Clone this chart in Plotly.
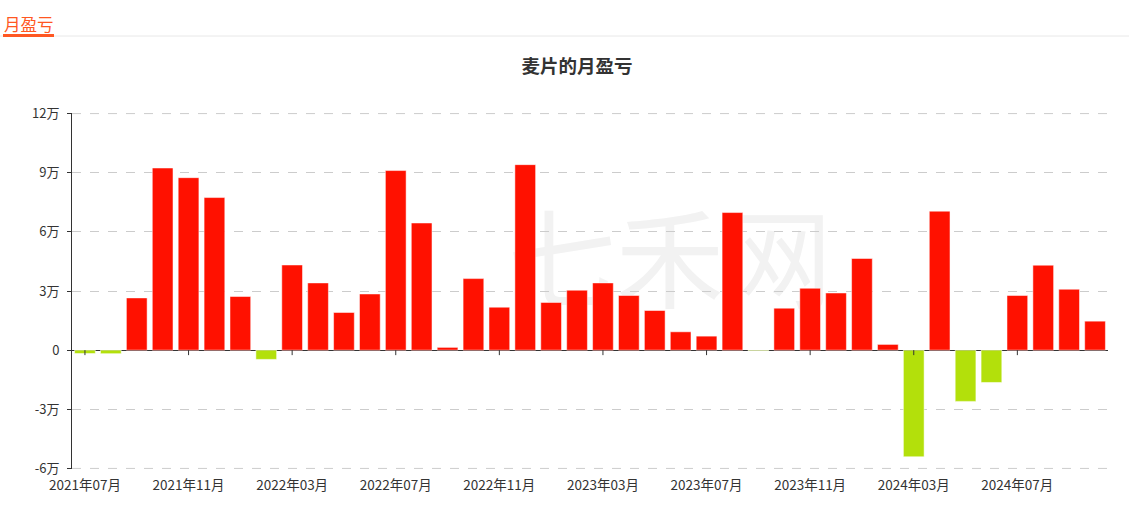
import plotly.graph_objects as go

months = [
    "2021年07月", "2021年08月", "2021年09月", "2021年10月", "2021年11月", "2021年12月",
    "2022年01月", "2022年02月", "2022年03月", "2022年04月", "2022年05月", "2022年06月",
    "2022年07月", "2022年08月", "2022年09月", "2022年10月", "2022年11月", "2022年12月",
    "2023年01月", "2023年02月", "2023年03月", "2023年04月", "2023年05月", "2023年06月",
    "2023年07月", "2023年08月", "2023年09月", "2023年10月", "2023年11月", "2023年12月",
    "2024年01月", "2024年02月", "2024年03月", "2024年04月", "2024年05月", "2024年06月",
    "2024年07月", "2024年08月", "2024年09月", "2024年10月",
]
profit = [
    -1700, -1800, 26500, 92400, 87500, 77400,
    27200, -4700, 43200, 34100, 19100, 28500,
    91100, 64500, 1400, 36300, 21800, 94100,
    24200, 30400, 34100, 27700, 20100, 9300,
    7100, 69800, -300, 21300, 31400, 29000,
    46500, 2900, -54100, 70500, -26000, -16400,
    27700, 43100, 30900, 14700,
]
x_ticks = ["2021年07月", "2021年11月", "2022年03月", "2022年07月", "2022年11月",
           "2023年03月", "2023年07月", "2023年11月", "2024年03月", "2024年07月"]
y_ticks = [-60000, -30000, 0, 30000, 60000, 90000, 120000]
y_tick_text = ["-6万", "-3万", "0", "3万", "6万", "9万", "12万"]

RED = "#ff1100"
GREEN = "#b3e00b"
colors = [RED if v >= 0 else GREEN for v in profit]

W, H = 1129, 519
ML, MR, MT, MB = 72, 21, 113, 50
PW, PH = W - ML - MR, H - MT - MB


def px(x):
    return (x - ML) / PW


def py(y):
    return (H - MB - y) / PH


FONT = "Noto Sans CJK SC, Noto Sans, sans-serif"

fig = go.Figure()
fig.add_trace(go.Bar(
    x=months, y=profit,
    marker=dict(color=colors, line=dict(color="rgba(255,255,255,0.5)", width=1)),
    hovertemplate="%{x}: %{y}<extra></extra>",
))

shapes = []
# watermark (behind bars)
shapes.append(dict(
    type="rect", xref="paper", yref="paper",
    x0=px(500), x1=px(840), y0=py(345), y1=py(195),
    line=dict(width=0), fillcolor="rgba(0,0,0,0)", layer="below",
    label=dict(text="七禾网", font=dict(size=108, color="#f2f2f2", family=FONT),
               textposition="middle center"),
))
# dashed grid lines at the range edges
for yv in (y_ticks[0], y_ticks[-1]):
    shapes.append(dict(type="line", xref="paper", yref="y", x0=0, x1=1,
                       y0=yv, y1=yv, layer="below",
                       line=dict(color="#cccccc", width=1, dash="dash")))
# x tick marks on the zero line
for t in x_ticks:
    shapes.append(dict(
        type="line", xref="x", yref="y", x0=t, x1=t,
        ysizemode="pixel", yanchor=0, y0=0, y1=-5,
        line=dict(color="#333333", width=1),
    ))
# header underline and separator
shapes.append(dict(type="line", xref="paper", yref="paper",
                   x0=px(0), x1=px(W), y0=py(36), y1=py(36),
                   line=dict(color="#e8e8e8", width=1)))
shapes.append(dict(type="rect", xref="paper", yref="paper",
                   x0=px(3), x1=px(54), y0=py(37), y1=py(34),
                   line=dict(width=0), fillcolor="#ff5722"))

fig.update_layout(
    width=W, height=H,
    margin=dict(l=ML, r=MR, t=MT, b=MB),
    paper_bgcolor="white", plot_bgcolor="white",
    showlegend=False,
    bargap=0.2,
    font=dict(family=FONT, size=12, color="#333333"),
    title=dict(text="<b>麦片的月盈亏</b>", x=577 / W, xanchor="center",
               y=1 - 67 / H, yanchor="middle",
               font=dict(size=18.5, color="#333333", family=FONT)),
    xaxis=dict(
        type="category", categoryorder="array", categoryarray=months,
        range=[-0.5, len(months) - 0.5],
        tickmode="array", tickvals=x_ticks, ticktext=x_ticks,
        showgrid=False, showline=False, ticks="",
        ticklabelstandoff=6,
        tickfont=dict(size=13.5, color="#333333"),
        fixedrange=True,
    ),
    yaxis=dict(
        range=[-60300, 120300],
        tickmode="array", tickvals=y_ticks, ticktext=y_tick_text,
        showgrid=True, gridcolor="#cccccc", griddash="dash", gridwidth=1,
        zeroline=True, zerolinecolor="#333333", zerolinewidth=1,
        showline=True, linecolor="#333333", linewidth=1,
        ticks="outside", ticklen=4, tickcolor="#333333",
        ticklabelstandoff=5,
        tickfont=dict(size=13, color="#333333"),
        fixedrange=True,
    ),
    shapes=shapes,
    annotations=[dict(
        text="月盈亏", xref="paper", yref="paper",
        x=px(2), y=py(24), xanchor="left", yanchor="middle",
        showarrow=False, font=dict(size=16.5, color="#ff5722", family=FONT),
    )],
)

fig.write_html("out.html", config={"displayModeBar": False},
               post_script="document.body.style.margin='0';document.body.style.padding='0';")
